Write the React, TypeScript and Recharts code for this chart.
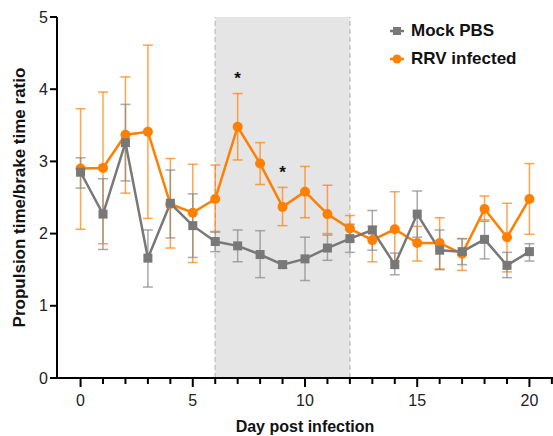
import React from "react";
import {
  ComposedChart,
  Line,
  Scatter,
  XAxis,
  YAxis,
  ErrorBar,
  ReferenceArea,
  ReferenceLine,
} from "recharts";

const days = [0, 1, 2, 3, 4, 5, 6, 7, 8, 9, 10, 11, 12, 13, 14, 15, 16, 17, 18, 19, 20];

const mockMean = [2.85, 2.27, 3.26, 1.66, 2.42, 2.11, 1.89, 1.83, 1.71, 1.57, 1.65, 1.8, 1.93, 2.05, 1.57, 2.27, 1.77, 1.75, 1.92, 1.56, 1.75];
const mockUpper = [3.05, 2.76, 3.79, 2.05, 2.88, 2.55, 2.02, 2.05, 2.04, 1.62, 1.95, 1.98, 2.13, 2.32, 1.73, 2.59, 2.05, 1.93, 2.17, 1.74, 1.86];
const mockLower = [2.63, 1.78, 2.73, 1.26, 1.94, 1.67, 1.75, 1.61, 1.39, 1.52, 1.35, 1.63, 1.74, 1.77, 1.43, 1.95, 1.5, 1.57, 1.65, 1.39, 1.62];

const rrvMean = [2.9, 2.91, 3.37, 3.41, 2.41, 2.29, 2.48, 3.48, 2.97, 2.37, 2.58, 2.27, 2.07, 1.91, 2.06, 1.87, 1.87, 1.72, 2.34, 1.95, 2.48];
const rrvUpper = [3.73, 3.96, 4.17, 4.61, 3.04, 2.96, 2.95, 3.94, 3.26, 2.64, 2.93, 2.67, 2.25, 2.1, 2.58, 2.1, 2.22, 1.93, 2.52, 2.42, 2.97];
const rrvLower = [2.06, 1.86, 2.56, 2.21, 1.8, 1.6, 2.03, 3.02, 2.68, 2.11, 2.22, 2.0, 1.9, 1.61, 1.62, 1.62, 1.51, 1.49, 2.19, 1.47, 1.99];

// significance markers
const starDays = [7, 9];
const starValues = [4.21, 2.91];

const xTicks = [0, 1, 2, 3, 4, 5, 6, 7, 8, 9, 10, 11, 12, 13, 14, 15, 16, 17, 18, 19, 20, 21];
const xLabels = [0, 5, 10, 15, 20];
const yTicks = [0, 1, 2, 3, 4, 5];

const ORANGE = "#ff7f00";
const GRAY = "#787878";
const FONT = "'Liberation Sans', Arial, Helvetica, sans-serif";

const data = days.map((d, i) => ({
  day: d,
  mock: mockMean[i],
  rrv: rrvMean[i],
  mockErr: [mockMean[i] - mockLower[i], mockUpper[i] - mockMean[i]],
  rrvErr: [rrvMean[i] - rrvLower[i], rrvUpper[i] - rrvMean[i]],
}));

const starData = starDays.map((d, i) => ({ day: d, star: starValues[i] }));

function XTick(props: any) {
  const { x, y, payload } = props;
  const major = xLabels.includes(payload.value);
  return (
    <g>
      <line x1={x} x2={x} y1={y} y2={y + (major ? 9 : 6)} stroke="#000" strokeWidth={2} />
      {major && (
        <text x={x} y={y + 28} textAnchor="middle" fontSize={16} fill="#222" fontFamily={FONT}>
          {payload.value}
        </text>
      )}
    </g>
  );
}

function SquareDot(props: any) {
  const { cx, cy } = props;
  if (cx == null || cy == null) return null;
  return <rect x={cx - 4.5} y={cy - 4.5} width={9} height={9} fill={GRAY} />;
}

function Star(props: any) {
  const { cx, cy } = props;
  return (
    <text x={cx} y={cy + 10} textAnchor="middle" fontSize={17} fontWeight="bold" fill="#111" fontFamily={FONT}>
      *
    </text>
  );
}

function LegendBox() {
  const rows = [
    { name: "Mock PBS", shape: "square", color: GRAY },
    { name: "RRV infected", shape: "circle", color: ORANGE },
  ];
  return (
    <div style={{ position: "absolute", left: 389, top: 17, fontFamily: FONT }}>
      {rows.map((r) => (
        <div key={r.name} style={{ display: "flex", alignItems: "center", height: 28 }}>
          <svg width={16} height={12} style={{ marginRight: 6 }}>
            <line x1={1} x2={15} y1={6} y2={6} stroke={r.color} strokeWidth={2.5} />
            {r.shape === "square" ? (
              <rect x={4} y={2} width={8} height={8} fill={r.color} />
            ) : (
              <circle cx={8} cy={6} r={4.5} fill={r.color} />
            )}
          </svg>
          <span style={{ fontSize: 17, fontWeight: "bold", color: "#111" }}>{r.name}</span>
        </div>
      ))}
    </div>
  );
}

export default function App() {
  return (
    <div style={{ position: "absolute", left: 0, top: 0, width: 553, height: 436, background: "#fff" }}>
      <ComposedChart
        width={553}
        height={436}
        data={data}
        margin={{ top: 17, right: 0, left: 0, bottom: 0 }}
      >
        <ReferenceArea x1={6} x2={12} y1={0} y2={5} fill="#e5e5e5" fillOpacity={1} stroke="none" />
        <ReferenceLine x={6} stroke="#c4c4c4" strokeWidth={1.5} strokeDasharray="5 3" />
        <ReferenceLine x={12} stroke="#c4c4c4" strokeWidth={1.5} strokeDasharray="5 3" />
        <XAxis
          dataKey="day"
          type="number"
          domain={[-1.05, 21.05]}
          ticks={xTicks}
          interval={0}
          allowDataOverflow
          tickLine={false}
          tickSize={0}
          tickMargin={0}
          tick={<XTick />}
          height={58}
          axisLine={{ stroke: "#000", strokeWidth: 2 }}
          label={{
            value: "Day post infection",
            position: "insideBottom",
            offset: 4,
            style: { fontSize: 16, fontWeight: "bold", fill: "#111", fontFamily: FONT },
          }}
        />
        <YAxis
          type="number"
          domain={[0, 5]}
          ticks={yTicks}
          interval={0}
          width={57}
          tickSize={7}
          tickMargin={2}
          tickLine={{ stroke: "#000", strokeWidth: 2 }}
          axisLine={{ stroke: "#000", strokeWidth: 2 }}
          tick={{ fontSize: 16, fill: "#222", fontFamily: FONT }}
          label={{
            value: "Propulsion time/brake time ratio",
            angle: -90,
            position: "insideLeft",
            offset: 19,
            style: { fontSize: 17, fontWeight: "bold", fill: "#111", fontFamily: FONT, textAnchor: "middle" },
          }}
        />
        <Line
          dataKey="rrv"
          name="RRV infected"
          stroke={ORANGE}
          strokeWidth={2.5}
          dot={{ r: 5, fill: ORANGE, stroke: "none" }}
          activeDot={false}
          isAnimationActive={false}
        >
          <ErrorBar dataKey="rrvErr" width={5} stroke={ORANGE} strokeOpacity={0.7} strokeWidth={1.5} direction="y" />
        </Line>
        <Line
          dataKey="mock"
          name="Mock PBS"
          stroke={GRAY}
          strokeWidth={2.5}
          dot={<SquareDot />}
          activeDot={false}
          isAnimationActive={false}
        >
          <ErrorBar dataKey="mockErr" width={5} stroke="#8c8c8c" strokeOpacity={0.75} strokeWidth={1.5} direction="y" />
        </Line>
        <Scatter data={starData} dataKey="star" shape={<Star />} isAnimationActive={false} />
      </ComposedChart>
      <LegendBox />
    </div>
  );
}
